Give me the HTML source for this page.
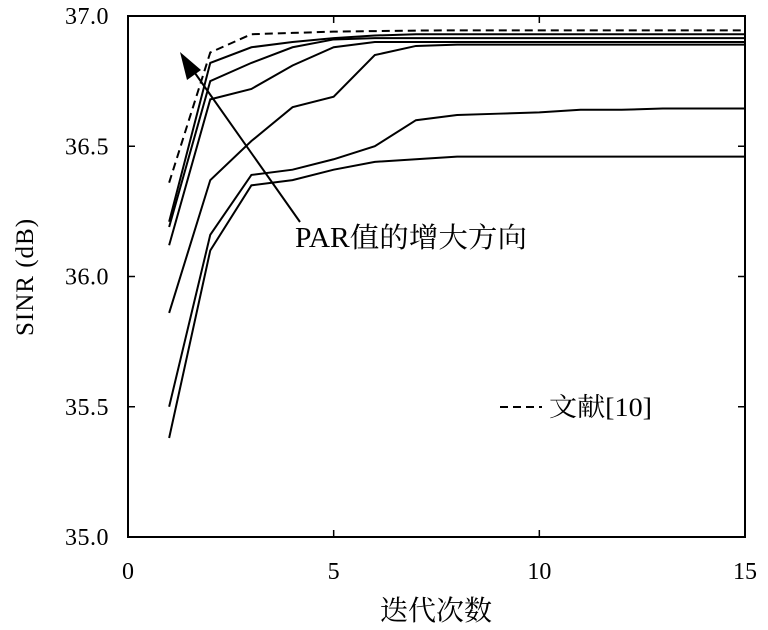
<!DOCTYPE html>
<html><head><meta charset="utf-8"><style>
html,body{margin:0;padding:0;background:#fff;width:768px;height:630px;overflow:hidden}
svg text{font-family:"Liberation Serif","Noto Serif CJK SC",serif;fill:#000}
</style></head><body>
<svg id="chart" width="768" height="630" viewBox="0 0 768 630" xmlns="http://www.w3.org/2000/svg">
<g id="marks"></g>
</svg>
<script>
const iterations=[1,2,3,4,5,6,7,8,9,10,11,12,13,14,15];
const refSeries=[36.36,36.86,36.93,36.935,36.94,36.942,36.944,36.945,36.945,36.945,36.945,36.945,36.945,36.945,36.945];
const seriesA=[36.21,36.82,36.88,36.90,36.915,36.925,36.93,36.93,36.93,36.93,36.93,36.93,36.93,36.93,36.93];
const seriesB=[36.19,36.75,36.82,36.88,36.91,36.915,36.915,36.915,36.915,36.915,36.915,36.915,36.915,36.915,36.915];
const seriesC=[36.12,36.68,36.72,36.81,36.88,36.90,36.90,36.90,36.90,36.90,36.90,36.90,36.90,36.90,36.90];
const seriesD=[35.86,36.37,36.52,36.65,36.69,36.85,36.885,36.89,36.89,36.89,36.89,36.89,36.89,36.89,36.89];
const seriesE=[35.50,36.16,36.39,36.41,36.45,36.50,36.60,36.62,36.625,36.63,36.64,36.64,36.645,36.645,36.645];
const seriesF=[35.38,36.10,36.35,36.37,36.41,36.44,36.45,36.46,36.46,36.46,36.46,36.46,36.46,36.46,36.46];
const xTicks=[0,5,10,15];
const yTicks=[35.0,35.5,36.0,36.5,37.0];
const yTickLabels=["35.0","35.5","36.0","36.5","37.0"];

const L=128,R=745,T=16,B=537;
const sx=v=>L+(v-0)/(15-0)*(R-L);
const sy=v=>B-(v-35)/(37-35)*(B-T);
const NS="http://www.w3.org/2000/svg";
const g=document.getElementById('marks');
function mk(tag,attrs,parent){const e=document.createElementNS(NS,tag);for(const k in attrs)e.setAttribute(k,attrs[k]);(parent||g).appendChild(e);return e;}

const solids=[["series-par-1",seriesA],["series-par-2",seriesB],["series-par-3",seriesC],["series-par-4",seriesD],["series-par-5",seriesE],["series-par-6",seriesF]];
solids.forEach(([name,s])=>{
  const p=mk('polyline',{points:s.map((v,i)=>sx(iterations[i])+','+sy(v)).join(' '),fill:'none',stroke:'#000','stroke-width':2});
  
  
});
const dp=mk('polyline',{points:refSeries.map((v,i)=>sx(iterations[i])+','+sy(v)).join(' '),fill:'none',stroke:'#000','stroke-width':2,'stroke-dasharray':'8,5'});



const fr=mk('rect',{x:L,y:T,width:R-L,height:B-T,fill:'none',stroke:'#000','stroke-width':2});



xTicks.forEach(t=>{
  const x=sx(t);
  mk('line',{x1:x,y1:B,x2:x,y2:B-7,stroke:'#000','stroke-width':1.5});
  mk('line',{x1:x,y1:T,x2:x,y2:T+7,stroke:'#000','stroke-width':1.5});
  const tx=mk('text',{x:x,y:B+42,'text-anchor':'middle','font-size':24});
  tx.textContent=String(t);
  
  
});
yTicks.forEach((t,i)=>{
  const y=sy(t);
  mk('line',{x1:L,y1:y,x2:L+7,y2:y,stroke:'#000','stroke-width':1.5});
  mk('line',{x1:R,y1:y,x2:R-7,y2:y,stroke:'#000','stroke-width':1.5});
  const tx=mk('text',{x:109,y:y+8,'text-anchor':'end','font-size':24,'letter-spacing':'0.5'});
  tx.textContent=yTickLabels[i];
  
  
});

const xt=mk('text',{x:436,y:620,'text-anchor':'middle','font-size':28});
xt.textContent='迭代次数';


const yt=mk('text',{x:0,y:0,'text-anchor':'middle','font-size':25,'letter-spacing':'1',transform:'translate(33,277) rotate(-90)'});
yt.textContent='SINR (dB)';



const ar=mk('line',{x1:300,y1:222,x2:190,y2:66,stroke:'#000','stroke-width':2});


const ah=mk('polygon',{points:'180,52 201,70 187,80',fill:'#000'});


const an=mk('text',{x:295,y:247,'font-size':28,textLength:232,lengthAdjust:'spacingAndGlyphs'});
an.textContent='PAR值的增大方向';



const lg=mk('g',{});


mk('line',{x1:500,y1:407,x2:542,y2:407,stroke:'#000','stroke-width':2,'stroke-dasharray':'8,5'},lg);
const lt=mk('text',{x:549,y:416,'font-size':26,textLength:103,lengthAdjust:'spacingAndGlyphs'},lg);
lt.textContent='文献[10]';
</script>
</body></html>
